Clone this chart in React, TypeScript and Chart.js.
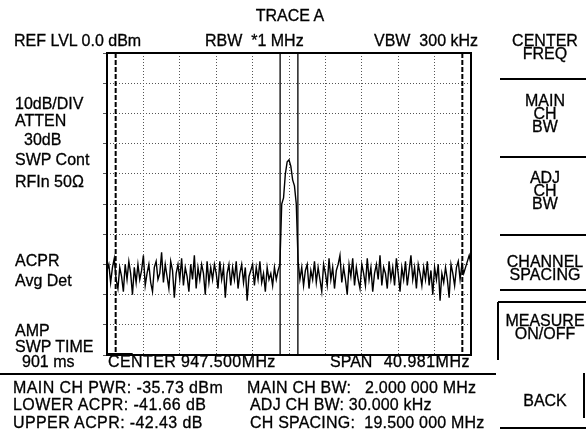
import React, { useEffect, useRef } from "react";
import { Chart, registerables } from "chart.js";

Chart.register(...registerables);

// ---- instrument settings ----
const CENTER_MHZ = 947.5;
const SPAN_MHZ = 40.981;
const REF_LEVEL_DBM = 0;
const DB_PER_DIV = 10;
const DIVISIONS = 10;
const MAIN_CH_BW_MHZ = 2.0;
const ADJ_CH_BW_MHZ = 0.03;
const CH_SPACING_MHZ = 19.5;

// ---- trace (dBm), 201 sweep points ----
const lowerNoise = [
  -72, -70, -76, -71, -68, -75, -78, -71, -74, -79,
  -70, -75, -69, -73, -80, -71, -76, -70, -75, -72,
  -67, -77, -73, -70, -76, -79, -71, -69, -75, -73,
  -66, -76, -70, -74, -78, -69, -72, -81, -73, -70,
  -75, -68, -77, -71, -74, -79, -70, -75, -67, -78,
  -71, -75, -70, -73, -80, -69, -76, -71, -75, -70,
  -73, -78, -69, -75, -71, -81, -73, -70, -77, -71,
  -75, -69, -78, -73, -70, -76, -71, -82, -74, -72,
  -70, -77, -71, -75, -69, -76, -73, -79, -71, -75,
  -73, -77, -71, -75, -72,
];
const mainChannel = [-70, -50, -48, -40, -36, -35.4, -37.5, -42, -44, -50, -69];
const upperNoise = [
  -75, -71, -77, -72, -70, -78, -72, -75, -69, -76,
  -71, -75, -79, -70, -73, -77, -68, -75, -71, -78,
  -72, -70, -67, -76, -71, -75, -80, -70, -74, -68,
  -77, -71, -75, -78, -70, -73, -77, -68, -75, -71,
  -79, -73, -70, -75, -67, -77, -71, -73, -78, -69,
  -75, -71, -77, -68, -73, -79, -71, -75, -69, -77,
  -72, -67, -75, -71, -78, -70, -73, -77, -71, -75,
  -69, -77, -72, -80, -71, -75, -70, -82, -73, -76,
  -71, -75, -81, -70, -73, -77, -71, -69, -75, -70,
  -73, -71, -69, -67, -70,
];
const traceLevels = [...lowerNoise, ...mainChannel, ...upperNoise];

// sweep indicator bar at bottom-left (MHz)
const sweepBarMHz = [927.01, 929.9];

const leftLabels = [
  { t: "10dB/DIV", x: 15, y: 104 },
  { t: "ATTEN", x: 15, y: 121 },
  { t: "30dB", x: 24, y: 140 },
  { t: "SWP Cont", x: 15, y: 160 },
  { t: "RFIn 50Ω", x: 15, y: 182 },
  { t: "ACPR", x: 15, y: 261 },
  { t: "Avg Det", x: 15, y: 281 },
  { t: "AMP", x: 15, y: 331 },
  { t: "SWP TIME", x: 15, y: 347 },
  { t: "901 ms", x: 22, y: 362 },
];

const readoutLines = [
  { t: "MAIN CH PWR: -35.73 dBm", x: 13, y: 388, ls: 0.4 },
  { t: "LOWER ACPR: -41.66 dB", x: 13, y: 405, ls: 0.4 },
  { t: "UPPER ACPR: -42.43 dB", x: 13, y: 423, ls: 0.4 },
  { t: "MAIN CH BW:   2.000 000 MHz", x: 247, y: 388, ls: 0.2 },
  { t: "ADJ CH BW: 30.000 kHz", x: 250, y: 405, ls: 0.2 },
  { t: "CH SPACING:  19.500 000 MHz", x: 250, y: 423, ls: 0.2 },
];

const menuItems = [
  { lines: ["CENTER", "FREQ"], y: 41 },
  { lines: ["MAIN", "CH", "BW"], y: 101 },
  { lines: ["ADJ", "CH", "BW"], y: 178 },
  { lines: ["CHANNEL", "SPACING"], y: 262 },
  { lines: ["MEASURE", "ON/OFF"], y: 321 },
  { lines: ["BACK"], y: 401 },
];

const FONT = "'Liberation Sans', Arial, Helvetica, sans-serif";

function Txt(props: { t: string; x: number; y: number; align?: "left" | "center" | "right"; ls?: number }) {
  const { t, x, y, align = "left", ls = 0 } = props;
  const base: React.CSSProperties = {
    position: "absolute",
    top: y - 7.8,
    fontFamily: FONT,
    fontSize: 16,
    lineHeight: "16px",
    color: "#000",
    whiteSpace: "pre",
    letterSpacing: ls + "px",
    WebkitTextStroke: "0.3px #000",
  };
  if (align === "center") {
    return <div style={{ ...base, left: x - 60, width: 120, textAlign: "center" }}>{t}</div>;
  }
  if (align === "right") {
    return <div style={{ ...base, left: x - 300, width: 300, textAlign: "right" }}>{t}</div>;
  }
  return <div style={{ ...base, left: x }}>{t}</div>;
}

function HLine(props: { x1: number; x2: number; y: number; w?: number }) {
  const { x1, x2, y, w = 2 } = props;
  return <div style={{ position: "absolute", left: x1, top: y - w / 2, width: x2 - x1, height: w, background: "#000" }} />;
}
function VLine(props: { x: number; y1: number; y2: number; w?: number }) {
  const { x, y1, y2, w = 2 } = props;
  return <div style={{ position: "absolute", left: x - w / 2, top: y1, width: w, height: y2 - y1, background: "#000" }} />;
}

export default function App() {
  const ref = useRef<HTMLCanvasElement | null>(null);

  useEffect(() => {
    if (!ref.current) return;
    const startMHz = CENTER_MHZ - SPAN_MHZ / 2;
    const stopMHz = CENTER_MHZ + SPAN_MHZ / 2;
    const n = traceLevels.length;
    const tracePts = traceLevels.map((v, i) => ({ x: startMHz + (i * SPAN_MHZ) / (n - 1), y: v }));
    const bottom = REF_LEVEL_DBM - DB_PER_DIV * DIVISIONS;
    const vline = (f: number) => [
      { x: f, y: REF_LEVEL_DBM },
      { x: f, y: bottom },
    ];
    const xGrid: number[] = [];
    for (let i = 0; i <= DIVISIONS; i++) xGrid.push(startMHz + (i * SPAN_MHZ) / DIVISIONS);

    const frame = {
      id: "frame",
      afterDraw(chart: any) {
        const { left, top, right, bottom: b } = chart.chartArea;
        const ctx = chart.ctx;
        ctx.save();
        ctx.strokeStyle = "#000";
        ctx.lineWidth = 2;
        ctx.strokeRect(left, top, right - left, b - top);
        ctx.restore();
      },
    };

    const chart = new Chart(ref.current, {
      type: "line",
      data: {
        datasets: [
          {
            label: "Trace A",
            data: tracePts,
            borderColor: "#000",
            borderWidth: 1.4,
            pointRadius: 0,
            tension: 0,
          },
          {
            label: "Main ch low",
            data: vline(CENTER_MHZ - MAIN_CH_BW_MHZ / 2),
            borderColor: "#000",
            borderWidth: 1.3,
            pointRadius: 0,
          },
          {
            label: "Main ch high",
            data: vline(CENTER_MHZ + MAIN_CH_BW_MHZ / 2),
            borderColor: "#000",
            borderWidth: 1.3,
            pointRadius: 0,
          },
          {
            label: "Lower adj",
            data: vline(CENTER_MHZ - CH_SPACING_MHZ - ADJ_CH_BW_MHZ / 2),
            borderColor: "#000",
            borderWidth: 2,
            borderDash: [5, 2],
            pointRadius: 0,
          },
          {
            label: "Upper adj",
            data: vline(CENTER_MHZ + CH_SPACING_MHZ + ADJ_CH_BW_MHZ / 2),
            borderColor: "#000",
            borderWidth: 2,
            borderDash: [5, 2],
            pointRadius: 0,
          },
          {
            label: "Sweep bar",
            data: sweepBarMHz.map((f) => ({ x: f, y: bottom })),
            borderColor: "#000",
            borderWidth: 4,
            pointRadius: 0,
          },
        ],
      },
      options: {
        animation: false,
        responsive: false,
        events: [],
        layout: { padding: { left: 103, top: 53, right: 115, bottom: 88 } },
        plugins: { legend: { display: false }, tooltip: { enabled: false }, title: { display: false } },
        scales: {
          x: {
            type: "linear",
            min: startMHz,
            max: stopMHz,
            afterBuildTicks: (s: any) => {
              s.ticks = xGrid.map((v) => ({ value: v }));
            },
            ticks: { display: false },
            grid: { color: "#555", lineWidth: 1, drawTicks: false },
            border: { display: false, dash: [1, 2] },
          },
          y: {
            type: "linear",
            min: bottom,
            max: REF_LEVEL_DBM,
            ticks: { display: false, stepSize: DB_PER_DIV },
            grid: { color: "#555", lineWidth: 1, drawTicks: true, tickLength: 4 },
            border: { display: false, dash: [1, 2] },
          },
        },
      },
      plugins: [frame],
    });
    return () => chart.destroy();
  }, []);

  return (
    <div style={{ position: "absolute", left: 0, top: 0, width: 586, height: 443, background: "#fff", overflow: "hidden" }}>
      <canvas ref={ref} width={586} height={443} style={{ position: "absolute", left: 0, top: 0, width: 586, height: 443 }} />
      <Txt t="TRACE A" x={290} y={16} align="center" />
      <Txt t="REF LVL 0.0 dBm" x={14} y={41} />
      <Txt t="RBW  *1 MHz" x={205} y={41} />
      <Txt t="VBW  300 kHz" x={374} y={41} />
      {leftLabels.map((l, i) => (
        <Txt key={"l" + i} t={l.t} x={l.x} y={l.y} />
      ))}
      <Txt t="CENTER 947.500MHz" x={108} y={362} ls={0.4} />
      <Txt t="SPAN" x={330} y={362} />
      <Txt t="40.981MHz" x={470} y={362} align="right" ls={0.5} />
      <HLine x1={0} x2={496} y={374} w={1.5} />
      {readoutLines.map((l, i) => (
        <Txt key={"r" + i} t={l.t} x={l.x} y={l.y} ls={l.ls} />
      ))}
      {menuItems.map((m, i) =>
        m.lines.map((ln, j) => <Txt key={"m" + i + "_" + j} t={ln} x={545} y={m.y + j * 13} align="center" />)
      )}
      <HLine x1={500} x2={586} y={79} />
      <HLine x1={500} x2={586} y={157} />
      <HLine x1={500} x2={586} y={235} />
      <HLine x1={500} x2={586} y={290} />
      <HLine x1={498} x2={586} y={302} />
      <VLine x={498} y1={302} y2={360} />
      <VLine x={584} y1={373} y2={418} />
      <HLine x1={500} x2={586} y={428} />
    </div>
  );
}
